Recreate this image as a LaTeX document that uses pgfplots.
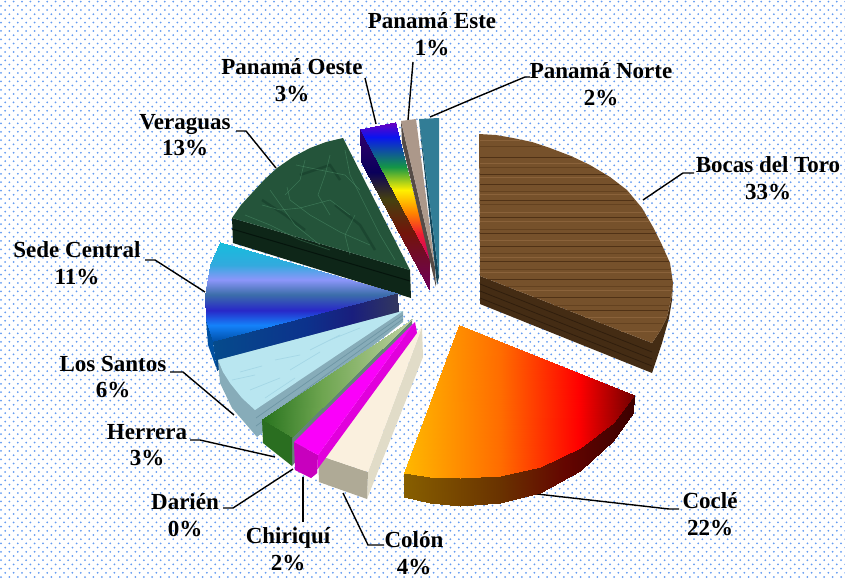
\documentclass[border=0pt]{standalone}
\usepackage{fontspec}
\setmainfont{Liberation Serif}
\usepackage{pgfplots}
\pgfplotsset{compat=1.18}
\usetikzlibrary{patterns}
\definecolor{dotc}{RGB}{100,155,240}
\pgfdeclarepatternformonly{bgdots}{\pgfqpoint{-1pt}{-1pt}}{\pgfqpoint{8pt}{8pt}}{\pgfqpoint{8.4pt}{8.4pt}}{%
  \pgfpathcircle{\pgfqpoint{1pt}{1pt}}{1pt}%
  \pgfpathcircle{\pgfqpoint{5.2pt}{5.2pt}}{1pt}%
  \pgfusepath{fill}}
\pgfplotsset{
 colormap={cocletop}{rgb255(0pt)=(255,184,0); rgb255(42pt)=(255,108,0); rgb255(76pt)=(255,0,0); rgb255(100pt)=(115,0,0)},
 colormap={cocleside}{rgb255(0pt)=(135,95,0); rgb255(42pt)=(105,50,0); rgb255(70pt)=(100,5,0); rgb255(100pt)=(60,0,0)},
 colormap={sedetop}{rgb255(0pt)=(20,190,220); rgb255(23pt)=(50,170,222); rgb255(38pt)=(140,150,250); rgb255(53pt)=(60,110,170); rgb255(69pt)=(40,40,200); rgb255(84pt)=(20,130,250); rgb255(100pt)=(0,80,170)},
 colormap={sedefront}{rgb255(0pt)=(5,75,140); rgb255(50pt)=(12,50,140); rgb255(75pt)=(25,30,125); rgb255(100pt)=(50,55,95)},
 colormap={rainbow}{rgb255(0pt)=(110,0,190); rgb255(11pt)=(10,20,240); rgb255(33pt)=(20,150,70); rgb255(50pt)=(255,240,0); rgb255(67pt)=(255,130,0); rgb255(82pt)=(240,30,50); rgb255(100pt)=(200,0,100)},
 colormap={rainbowside}{rgb255(0pt)=(50,0,110); rgb255(27pt)=(10,0,90); rgb255(44pt)=(70,65,15); rgb255(65pt)=(115,20,10); rgb255(100pt)=(110,0,90)},
 colormap={herreratop}{rgb255(0pt)=(40,115,30); rgb255(40pt)=(110,165,80); rgb255(100pt)=(190,210,160)},
}
\newcommand\grad[3]{\addplot[patch,patch type=triangle,shader=interp,colormap name=#1,point meta=#2,point meta rel=per plot,forget plot] coordinates {#3};}
\newcommand\poly[2]{\addplot[#1,draw=none,forget plot] coordinates {#2} -- cycle;}
\newcommand\lne[2]{\addplot[#1,forget plot] coordinates {#2};}
\newcommand\st[5]{\addplot[draw=#1,line width=#2,forget plot] coordinates {(#4,#3)(#5,#3)};}
\newcommand\lab[4]{\node[align=center,font=\bfseries\fontsize{23}{26.5}\selectfont,inner sep=0pt,anchor=center] at (axis cs:#1,#2) {#3\\#4};}
\definecolor{wD}{RGB}{80,50,22}
\definecolor{wM}{RGB}{100,66,32}
\definecolor{wL}{RGB}{138,98,58}
\definecolor{mb}{RGB}{85,155,115}
\definecolor{md}{RGB}{22,62,42}
\definecolor{rp}{RGB}{165,215,230}
\begin{document}
\begin{tikzpicture}
\begin{axis}[scale only axis,width=845pt,height=578pt,xmin=0,xmax=845,ymin=0,ymax=578,y dir=reverse,hide axis,no markers,clip=true]
\addplot[draw=none,pattern=bgdots,pattern color=dotc,forget plot] coordinates {(0,0)(845,0)(845,578)(0,578)} -- cycle;
% leaders
\lne{black,line width=1.4pt}{(643,200)(683,173)(694,173)}
\lne{black,line width=1.4pt}{(537,494)(669,509)(679,509)}
\lne{black,line width=1.4pt}{(343,493)(368,545)(384,545)}
\lne{black,line width=1.4pt}{(303,477)(303,522)}
\lne{black,line width=1.4pt}{(293,469)(233,508)(223,508)}
\lne{black,line width=1.4pt}{(275,457)(200,440)(190,440)}
\lne{black,line width=1.4pt}{(234,415)(183,372)(170,372)}
\lne{black,line width=1.4pt}{(205,292)(155,260)(145,260)}
\lne{black,line width=1.4pt}{(276,168)(246,131)(236,131)}
\lne{black,line width=1.4pt}{(376,124)(365,78)}
\lne{black,line width=1.4pt}{(408,120)(413,62)}
\lne{black,line width=1.4pt}{(430,117)(470,100)(525,77)(530,77)}
% Bocas del Toro 33
\poly{fill={rgb,255:red,68;green,44;blue,20}}{(480,276)(652,343)(660,331)(667,317)(671,300)(673,283)(672,300)(669,318)(662,343)(652,373)(480,304)}
\lne{draw={rgb,255:red,48;green,30;blue,13},line width=.8pt}{(480,284)(652,352)}
\lne{draw={rgb,255:red,48;green,30;blue,13},line width=.8pt}{(480,291)(652,359)}
\lne{draw={rgb,255:red,48;green,30;blue,13},line width=.8pt}{(480,298)(652,366)}
\poly{fill={rgb,255:red,118;green,81;blue,43}}{(479,134)(496,135)(513,138)(532,142)(550,148)(571,156)(590,165)(610,177)(627,190)(642,208)(653,227)(662,245)(670,263)(673,283)(671,300)(667,317)(660,331)(652,343)(480,276)}
\st{wL}{.6pt}{140}{480}{520}
\st{wM}{.6pt}{146}{480}{541}
\st{wD}{.9pt}{157}{480}{572}
\st{wL}{.6pt}{163}{480}{586}
\st{wM}{.5pt}{167}{480}{593}
\st{wD}{.5pt}{174}{480}{605}
\st{wL}{.7pt}{177}{480}{609}
\st{wD}{.9pt}{184}{480}{619}
\st{wM}{.5pt}{191}{480}{627}
\st{wL}{.6pt}{194}{480}{630}
\st{wD}{.5pt}{200}{480}{634}
\st{wM}{.6pt}{204}{480}{637}
\st{wL}{.6pt}{212}{480}{643}
\st{wD}{.8pt}{217}{480}{646}
\st{wL}{.5pt}{221}{480}{650}
\st{wM}{.7pt}{229}{480}{653}
\st{wD}{.5pt}{233}{480}{656}
\st{wL}{.6pt}{240}{480}{659}
\st{wD}{.8pt}{246}{480}{662}
\st{wM}{.5pt}{253}{480}{665}
\st{wL}{.7pt}{257}{480}{667}
\st{wD}{.9pt}{261}{480}{669}
\st{wM}{.6pt}{269}{480}{670}
\st{wL}{.6pt}{272}{480}{671}
\st{wD}{.6pt}{279}{488}{672}
\st{wM}{.5pt}{286}{506}{672}
\st{wL}{.7pt}{290}{516}{671}
\st{wD}{.8pt}{297}{534}{670}
\st{wM}{.5pt}{305}{554}{669}
\st{wD}{.5pt}{310}{567}{668}
\st{wL}{.6pt}{317}{585}{666}
\st{wM}{.5pt}{323}{601}{663}
\st{wL}{.5pt}{331}{621}{658}
% Coclé 22
\grad{cocleside}{x}{(404,473)(430,477)(430,503) (404,473)(430,503)(404,497) (430,477)(460,478)(460,506) (430,477)(460,506)(430,503) (460,478)(500,476)(500,503) (460,478)(500,503)(460,506) (500,476)(540,467)(540,493) (500,476)(540,493)(500,503) (540,467)(580,448)(580,471) (540,467)(580,471)(540,493) (580,448)(613,423)(613,441) (580,448)(613,441)(580,471) (613,423)(634,395)(633,413) (613,423)(633,413)(613,441)}
\grad{cocletop}{x}{(459,325)(634,395)(613,423) (459,325)(613,423)(580,448) (459,325)(580,448)(540,467) (459,325)(540,467)(500,476) (459,325)(500,476)(460,478) (459,325)(460,478)(430,477) (459,325)(430,477)(404,473)}
% Veraguas 13
\poly{fill={rgb,255:red,14;green,38;blue,24}}{(232,218)(410,270)(411,298)(233,243)}
\lne{draw={rgb,255:red,5;green,20;blue,12},line width=1pt}{(232,229)(410,281)}
\poly{fill={rgb,255:red,36;green,84;blue,58}}{(343,138)(326,142)(310,148)(293,157)(277,168)(264,180)(252,193)(241,205)(232,218)(410,270)}
\lne{draw=md,line width=2.5pt,opacity=.6}{(300,175)(330,165)(340,180)}
\lne{draw=md,line width=2.5pt,opacity=.6}{(262,200)(285,215)(305,230)}
\lne{draw=md,line width=2.5pt,opacity=.6}{(335,205)(360,225)(375,250)}
\lne{draw=mb,line width=.6pt,opacity=.45}{(296,165)(320,170)(345,175)(360,190)}
\lne{draw=mb,line width=.6pt,opacity=.45}{(287,187)(290,200)(310,215)(340,232)(370,245)}
\lne{draw=mb,line width=.6pt,opacity=.45}{(262,205)(280,210)(300,208)(330,200)(350,215)}
\lne{draw=mb,line width=.6pt,opacity=.45}{(330,155)(325,175)(318,195)(330,215)}
\lne{draw=mb,line width=.6pt,opacity=.45}{(345,150)(350,175)(365,205)(380,235)(395,260)}
\lne{draw=mb,line width=.6pt,opacity=.45}{(245,215)(270,225)(300,240)(330,250)}
\lne{draw=mb,line width=.6pt,opacity=.45}{(305,160)(300,180)(285,195)}
\lne{draw=mb,line width=.6pt,opacity=.45}{(355,215)(345,235)(350,255)}
\lne{draw=mb,line width=.6pt,opacity=.45}{(270,190)(295,225)(320,245)}
% Panamá Oeste 3
\grad{rainbowside}{y}{(360,129)(361,162)(429,289) (360,129)(429,289)(429,258)}
\grad{rainbow}{y}{(360,129)(395,122)(429,258)}
% Panamá Este 1
\poly{fill={rgb,255:red,85;green,75;blue,70}}{(401,121)(402,143)(436,287)(435,267)}
\poly{fill={rgb,255:red,172;green,152;blue,138}}{(401,121)(416,119)(435,267)}
% Panamá Norte 2
\poly{fill={rgb,255:red,20;green,70;blue,90}}{(419,119)(421,140)(437,285)(439,277)}
\poly{fill={rgb,255:red,50;green,125;blue,150}}{(419,119)(439,118)(439,277)}
% Sede Central 11
\poly{fill={rgb,255:red,0;green,80;blue,160}}{(213,341)(206,320)(208,345)(217,370)}
\grad{sedefront}{x}{(397,293)(213,341)(217,370) (397,293)(217,370)(398,312)}
\grad{sedetop}{y}{(397,293)(220,242)(210,265) (397,293)(210,265)(205,295) (397,293)(205,295)(206,320) (397,293)(206,320)(213,341)}
% Los Santos 6
\poly{fill={rgb,255:red,135;green,172;blue,185}}{(218,360)(220,383)(232,408)(257,437)(403,322)(403,311)}
\lne{draw={rgb,255:red,110;green,150;blue,165},line width=.7pt}{(256,418)(403,315)}
\lne{draw={rgb,255:red,110;green,150;blue,165},line width=.7pt}{(256,426)(403,319)}
\poly{fill={rgb,255:red,185;green,230;blue,240}}{(403,311)(218,360)(223,372)(230,383)(242,398)(255,410)}
\lne{draw=rp,line width=.7pt}{(240,372)(262,366)}
\lne{draw=rp,line width=.7pt}{(232,380)(255,375)}
\lne{draw=rp,line width=.7pt}{(275,360)(300,355)}
\lne{draw=rp,line width=.7pt}{(250,390)(280,378)}
\lne{draw=rp,line width=.7pt}{(290,370)(320,352)}
\lne{draw=rp,line width=.7pt}{(330,340)(360,328)}
\lne{draw=rp,line width=.7pt}{(265,398)(295,378)}
\lne{draw=rp,line width=.7pt}{(310,350)(340,335)}
% Herrera 3
\poly{fill={rgb,255:red,100;green,130;blue,120}}{(292,437)(292,466)(412,328)(412,319)}
\poly{fill={rgb,255:red,42;green,110;blue,32}}{(262,419)(263,443)(292,466)(292,437)}
\grad{herreratop}{x}{(412,319)(262,419)(292,437)}
% Colón 4
\poly{fill={rgb,255:red,225;green,220;blue,200}}{(368,472)(367,499)(423,357)(422,327)}
\poly{fill={rgb,255:red,175;green,170;blue,150}}{(318,455)(319,482)(367,499)(368,472)}
\poly{fill={rgb,255:red,250;green,240;blue,222}}{(422,327)(318,455)(368,472)}
% Chiriquí 2
\poly{fill={rgb,255:red,225;green,0;blue,220}}{(318,455)(317,473)(311,478)(417,333)(415,322)}
\poly{fill={rgb,255:red,200;green,0;blue,190}}{(318,455)(317,473)(311,478)(295,470)(294,442)}
\poly{fill={rgb,255:red,250;green,0;blue,250}}{(415,322)(294,442)(318,455)}
% labels
\lab{432}{34}{Panamá Este}{1\%}
\lab{601}{84}{Panamá Norte}{2\%}
\lab{292}{80}{Panamá Oeste}{3\%}
\lab{185}{135}{Veraguas}{13\%}
\lab{768}{178}{Bocas del Toro}{33\%}
\lab{77}{263}{Sede Central}{11\%}
\lab{113}{377}{Los Santos}{6\%}
\lab{147}{445}{Herrera}{3\%}
\lab{185}{515}{Darién}{0\%}
\lab{288}{549}{Chiriquí}{2\%}
\lab{414}{553}{Colón}{4\%}
\lab{710}{514}{Coclé}{22\%}
\end{axis}
\end{tikzpicture}
\end{document}
